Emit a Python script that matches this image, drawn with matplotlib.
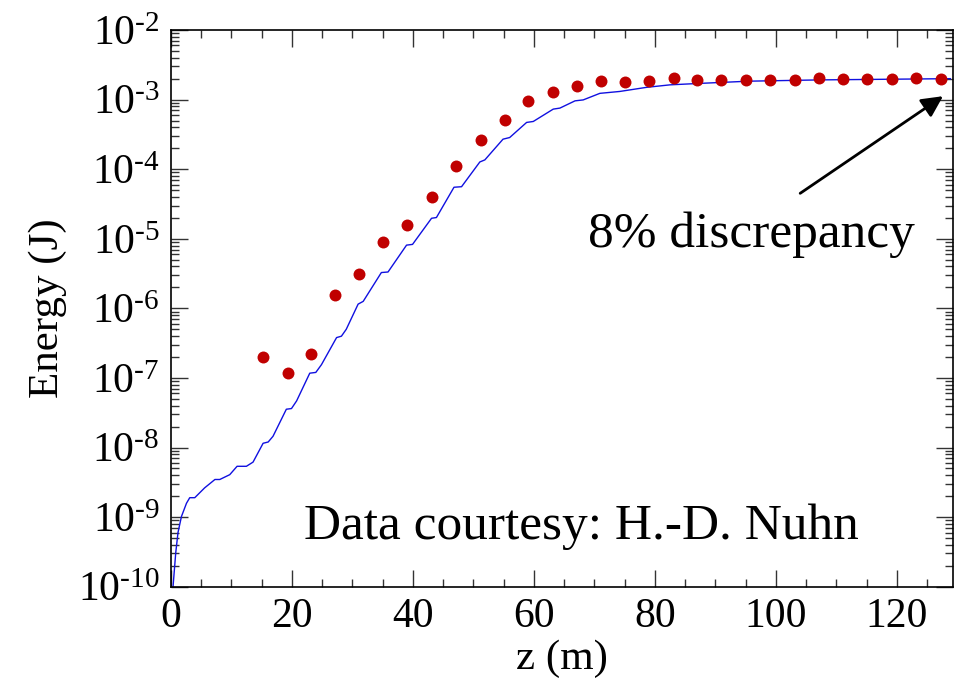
import matplotlib
matplotlib.use("Agg")
import matplotlib.pyplot as plt
from matplotlib.ticker import LogLocator, MultipleLocator, FuncFormatter
import numpy as np

plt.rcParams['font.family'] = ['Liberation Serif', 'DejaVu Serif']
plt.rcParams['mathtext.fontset'] = 'custom'
plt.rcParams['mathtext.rm'] = 'Liberation Serif'
plt.rcParams['mathtext.it'] = 'Liberation Serif:italic'

# Simulation (blue line): z in m, energy in J
sim_z = [0.25, 0.38, 0.83, 1.2, 1.77, 2.6, 3.14, 3.97, 5.6, 7.3, 8.1, 9.75,
         10.96, 12.5, 13.6, 15.26, 16.1, 16.9, 19.1, 19.95, 20.8, 22.97, 23.97,
         24.9, 27.4, 28.2, 29.0, 30.96, 31.8, 34.8, 35.9, 38.96, 39.95, 43.09,
         43.9, 46.8, 48.05, 51.07, 51.9, 54.9, 56.0, 58.8, 59.9, 63.2, 64.3,
         66.8, 68.15, 70.9, 74.2, 78.6, 82.5, 87.4, 95.5, 107.3, 128.8]
sim_E = [7e-11, 1.0e-10, 3.1e-10, 6.0e-10, 1.02e-9, 1.58e-9, 1.9e-9, 1.9e-9,
         2.63e-9, 3.47e-9, 3.47e-9, 4.07e-9, 5.37e-9, 5.37e-9, 6.17e-9,
         1.15e-8, 1.2e-8, 1.45e-8, 3.55e-8, 3.63e-8, 4.68e-8, 1.17e-7, 1.2e-7,
         1.55e-7, 3.8e-7, 3.98e-7, 5.0e-7, 1.15e-6, 1.26e-6, 3.27e-6, 3.33e-6,
         8.1e-6, 8.3e-6, 1.97e-5, 2.02e-5, 5.5e-5, 5.6e-5, 1.27e-4, 1.36e-4,
         2.7e-4, 2.85e-4, 4.7e-4, 4.85e-4, 7.3e-4, 7.55e-4, 9.6e-4, 9.9e-4,
         1.23e-3, 1.31e-3, 1.5e-3, 1.63e-3, 1.71e-3, 1.84e-3, 1.92e-3, 2.0e-3]

# Measurement (red dots)
meas_z = [15.3, 19.3, 23.2, 27.2, 31.1, 35.1, 39.1, 43.2, 47.2, 51.3, 55.3,
          59.1, 63.1, 67.1, 71.1, 75.1, 79.1, 83.1, 87.0, 91.0, 95.0, 99.0,
          103.1, 107.1, 111.1, 115.1, 119.2, 123.2, 127.2]
meas_E = [1.97e-7, 1.16e-7, 2.2e-7, 1.55e-6, 3.1e-6, 8.9e-6, 1.56e-5, 4.0e-5,
          1.1e-4, 2.6e-4, 5.1e-4, 9.5e-4, 1.29e-3, 1.56e-3, 1.85e-3, 1.79e-3,
          1.85e-3, 2.04e-3, 1.91e-3, 1.91e-3, 1.91e-3, 1.91e-3, 1.91e-3,
          2.04e-3, 1.97e-3, 2.0e-3, 1.98e-3, 2.04e-3, 1.97e-3]

fig = plt.figure(figsize=(9.63, 6.84), dpi=100)
ax = fig.add_axes([0.1773, 0.1423, 0.8120, 0.8138])

ax.plot(sim_z, sim_E, color='#1010e0', lw=1.0, zorder=2)
ax.plot(meas_z, meas_E, 'o', color='#c00000', ms=8.6, mec='none', zorder=3)

ax.set_yscale('log')
ax.set_xlim(0, 129.2)
ax.set_ylim(1e-10, 1e-2)

ax.xaxis.set_major_locator(MultipleLocator(20))
ax.xaxis.set_minor_locator(MultipleLocator(5))
ax.yaxis.set_major_locator(LogLocator(base=10, numticks=20))
ax.yaxis.set_minor_locator(LogLocator(base=10, subs=np.arange(2, 10), numticks=20))


def log_label(v, pos):
    # exponent written with a short hyphen like the original
    n = int(round(np.log10(v)))
    return r'$\mathregular{10^{%s%d}}$' % ('\u2010' if n < 0 else '', abs(n))


ax.yaxis.set_major_formatter(FuncFormatter(log_label))

ax.tick_params(which='both', direction='in', top=True, right=True,
               labelsize=30, width=1.0, color='#333333')
ax.tick_params(which='major', length=12, pad=8)
ax.tick_params(which='minor', length=6)
for s in ax.spines.values():
    s.set_linewidth(1.2)

ax.set_xlabel('z (m)', fontsize=31, labelpad=2)
ax.set_ylabel('Energy (J)', fontsize=31, labelpad=8)

ax.annotate('', xy=(127.6, 1.12e-3), xytext=(104.0, 4.5e-5),
            arrowprops=dict(arrowstyle='-|>', lw=2, color='black',
                            mutation_scale=32, shrinkA=0, shrinkB=0))
ax.text(95.9, 7.6e-6, '8% discrepancy', fontsize=37, ha='center', va='baseline')
ax.text(67.85, 4.8e-10, 'Data courtesy: H.-D. Nuhn', fontsize=37,
        ha='center', va='baseline')

fig.savefig('out.png', dpi=100)
